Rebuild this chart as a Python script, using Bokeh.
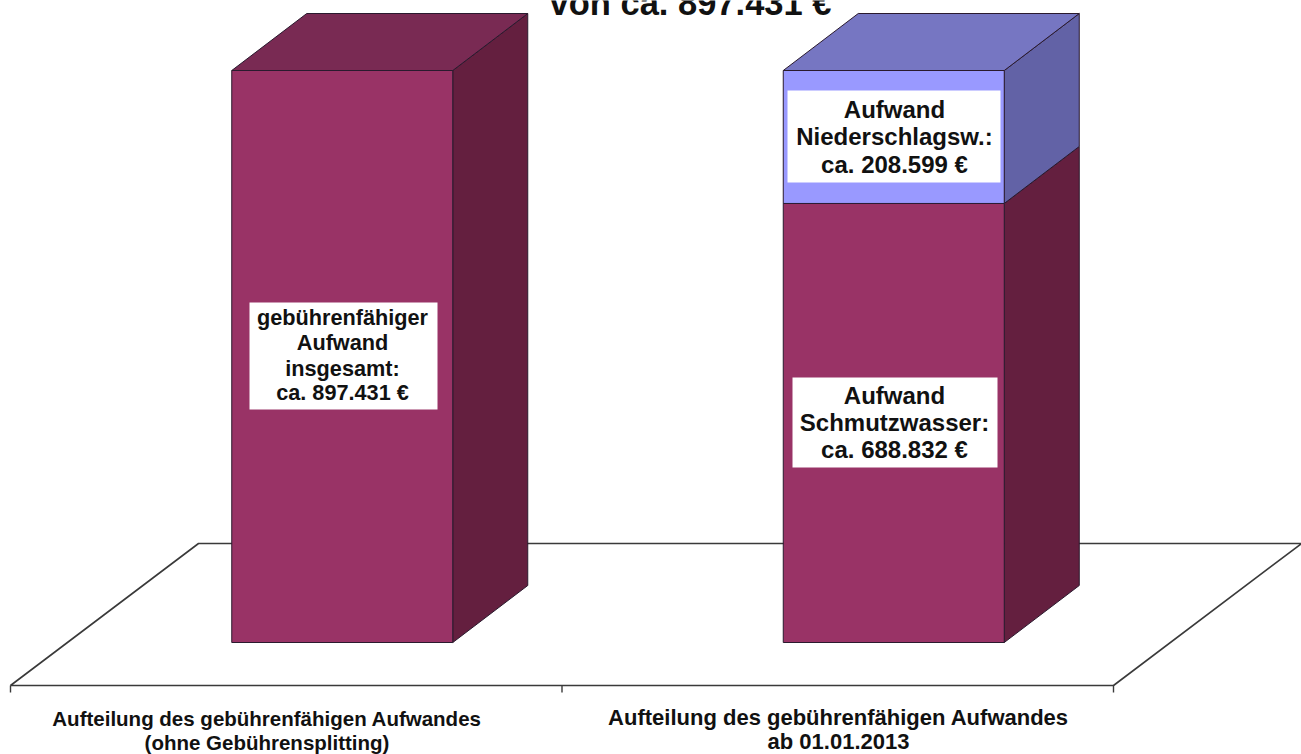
from bokeh.plotting import figure
from bokeh.models import Range1d, ColumnDataSource
from bokeh.core.properties import value
from bokeh.embed import file_html
from bokeh.resources import INLINE

# ---- data ----
categories = ["Aufteilung des gebührenfähigen Aufwandes\n(ohne Gebührensplitting)",
              "Aufteilung des gebührenfähigen Aufwandes\nab 01.01.2013"]
schmutzwasser = [897431, 688832]
niederschlag = [0, 208599]
title_line = "von ca. 897.431 €"

# ---- colours ----
C_FRONT, C_SIDE, C_TOP = "#993366", "#641F3F", "#792A53"
B_FRONT, B_SIDE, B_TOP = "#9999FF", "#6262A6", "#7676C2"
EDGE = "#2A1A2E"
FLOOR = "#3A3A3A"

# ---- scale set-up (1301 x 754 canvas) ----
W, H = 1301, 754
PX0, CAT_PX, BASE_PX = 10, 551.5, 642
K = 897431 / 572.0


def X(px):
    return (px - PX0) / CAT_PX


def Y(py):
    return (BASE_PX - py) * K


p = figure(width=W, height=H, output_backend="svg", toolbar_location=None,
           x_range=Range1d(X(0), X(W)), y_range=Range1d(Y(H), Y(0)),
           min_border=0, margin=(0, 0, 0, 0))
p.axis.visible = False
p.grid.visible = False
p.outline_line_color = None
p.background_fill_color = "white"
p.border_fill_color = "white"

# floor
ncat = len(categories)
FL_DY, FL_DX = Y(543) - Y(685), X(198) - X(10)
fy = Y(685)
p.patch([0, ncat, ncat + FL_DX, FL_DX], [fy, fy, fy + FL_DY, fy + FL_DY],
        fill_color="white", line_color=FLOOR, line_width=1.6)
ticks = list(range(ncat + 1))
p.segment(ticks, [fy] * len(ticks), ticks, [Y(692)] * len(ticks),
          line_color=FLOOR, line_width=1.4)

# 3D bars
BAR_W = 221 / CAT_PX
SHIFT = 56 / CAT_PX
DX, DY = 75 / CAT_PX, 57 * K


def box(x0, y0, y1, front, side, top, draw_top):
    x1 = x0 + BAR_W
    p.patch([x1, x1 + DX, x1 + DX, x1], [y0, y0 + DY, y1 + DY, y1],
            fill_color=side, line_color=EDGE, line_width=1)
    if draw_top:
        p.patch([x0, x1, x1 + DX, x0 + DX], [y1, y1, y1 + DY, y1 + DY],
                fill_color=top, line_color=EDGE, line_width=1)
    p.quad(left=[x0], right=[x1], bottom=[y0], top=[y1],
           fill_color=front, line_color=EDGE, line_width=1)


for i, (a, b) in enumerate(zip(schmutzwasser, niederschlag)):
    x0 = i + 0.5 + SHIFT - BAR_W / 2
    box(x0, 0, a, C_FRONT, C_SIDE, C_TOP, b == 0)
    if b:
        box(x0, a, a + b, B_FRONT, B_SIDE, B_TOP, True)

# label boxes: (left, right, top, bottom) px
label_boxes = [(249, 437, 302, 409), (787, 1000, 90, 182), (792, 997, 377, 467)]
p.quad(left=[X(b[0]) for b in label_boxes], right=[X(b[1]) for b in label_boxes],
       top=[Y(b[2]) for b in label_boxes], bottom=[Y(b[3]) for b in label_boxes],
       fill_color="white", line_color=None)

font = value("Liberation Sans")
labels = [
    ("gebührenfähiger", 342, 325, 21.7),
    ("Aufwand", 342, 350, 21.7),
    ("insgesamt:", 342, 376, 21.7),
    ("ca. 897.431 €", 342, 400, 21.7),
    ("Aufwand", 894, 117, 24),
    ("Niederschlagsw.:", 894, 144, 24),
    ("ca. 208.599 €", 894, 172, 24),
    ("Aufwand", 894, 403, 24),
    ("Schmutzwasser:", 894, 430, 24),
    ("ca. 688.832 €", 894, 457, 24),
    (title_line, 690, 15, 34.5),
]
cat_px = [(266.5, 20.5), (838, 22)]
for text, (cx, fs) in zip(categories, cat_px):
    for line, base in zip(text.split("\n"), (725, 749)):
        labels.append((line, cx, base, fs))

# glyph text is placed about 0.35 em above its drawn baseline
src = ColumnDataSource(dict(
    x=[X(l[1]) for l in labels], y=[Y(l[2] - 0.35 * l[3]) for l in labels],
    t=[l[0] for l in labels], fs=[f"{l[3]}px" for l in labels]))
p.text(x="x", y="y", text="t", source=src, text_font=font, text_font_style="bold",
       text_font_size="fs", text_align="center", text_baseline="alphabetic",
       text_color="#111111")

open("out.html", "w").write(file_html(p, INLINE))
